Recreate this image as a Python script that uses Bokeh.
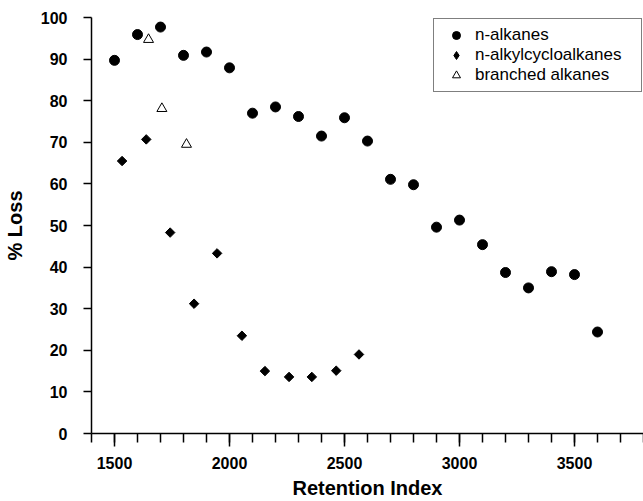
import math
from bokeh.plotting import figure
from bokeh.models import Range1d, FixedTicker, Legend, LegendItem
from bokeh.embed import file_html
from bokeh.resources import INLINE

# ---- data ----
n_alkanes_ri = [1500, 1600, 1700, 1800, 1900, 2000, 2100, 2200, 2300, 2400, 2500,
                2600, 2700, 2800, 2900, 3000, 3100, 3200, 3300, 3400, 3500, 3600]
n_alkanes_loss = [89.7, 95.9, 97.7, 90.9, 91.7, 87.9, 77.0, 78.5, 76.2, 71.5, 75.9,
                  70.3, 61.1, 59.8, 49.6, 51.3, 45.4, 38.7, 35.0, 38.9, 38.2, 24.4]

cyclo_ri = [1533, 1638, 1742, 1846, 1946, 2054, 2154, 2259, 2358, 2464, 2563]
cyclo_loss = [65.5, 70.7, 48.3, 31.2, 43.3, 23.5, 15.0, 13.6, 13.6, 15.1, 19.0]

branched_ri = [1648, 1706, 1813]
branched_loss = [94.7, 78.1, 69.5]

x_major_ticks = [1500, 2000, 2500, 3000, 3500]
x_minor_ticks = [1400, 1500, 1600, 1700, 1800, 1900, 2000, 2100, 2200, 2300, 2400, 2500,
                 2600, 2700, 2800, 2900, 3000, 3100, 3200, 3300, 3400, 3500, 3600, 3700, 3800]
y_ticks = [0, 10, 20, 30, 40, 50, 60, 70, 80, 90, 100]

series_labels = ["n-alkanes", "n-alkylcycloalkanes", "branched alkanes"]
x_title = "Retention Index"
y_title = "% Loss"

FONT = "Liberation Sans"

p = figure(width=643, height=501, output_backend="svg", toolbar_location=None,
           x_range=Range1d(1400, 3800), y_range=Range1d(0, 100),
           min_border_left=89, min_border_right=0, min_border_top=17,
           min_border_bottom=68)
p.outline_line_color = None
p.xgrid.visible = False
p.ygrid.visible = False
p.background_fill_color = "white"
p.border_fill_color = "white"

r1 = p.scatter(n_alkanes_ri, n_alkanes_loss, marker="circle", size=10,
               fill_color="black", line_color="black")
r2 = p.scatter(cyclo_ri, cyclo_loss, marker="square", angle=math.pi / 4, size=6.7,
               fill_color="black", line_color="black")
# legend-only twin of the cycloalkane series (diamond symbol in the key)
r2_key = p.scatter(cyclo_ri, cyclo_loss, marker="diamond", size=10,
                   fill_color="black", line_color="black", visible=False)
r3 = p.scatter(branched_ri, branched_loss, marker="triangle", size=10,
               fill_color="white", line_color="black", line_width=1)

# x axis
xa = p.xaxis[0]
xa.ticker = FixedTicker(ticks=x_major_ticks, minor_ticks=x_minor_ticks)
xa.axis_label = x_title
xa.axis_line_color = "black"
xa.axis_line_width = 1.5
xa.major_tick_line_color = "black"
xa.major_tick_line_width = 1.5
xa.minor_tick_line_color = "black"
xa.minor_tick_line_width = 1.5
xa.major_tick_out = 13
xa.major_tick_in = 0
xa.minor_tick_out = 9
xa.minor_tick_in = 0
xa.major_label_standoff = 10
xa.major_label_text_font = FONT
xa.major_label_text_font_style = "bold"
xa.major_label_text_font_size = "16px"
xa.major_label_text_color = "black"
xa.axis_label_standoff = 5
xa.axis_label_text_font = FONT
xa.axis_label_text_font_style = "bold"
xa.axis_label_text_font_size = "20px"
xa.axis_label_text_color = "black"

# y axis
ya = p.yaxis[0]
ya.ticker = FixedTicker(ticks=y_ticks)
ya.axis_label = y_title
ya.axis_line_color = "black"
ya.axis_line_width = 1.5
ya.major_tick_line_color = "black"
ya.major_tick_line_width = 1.5
ya.minor_tick_line_color = None
ya.major_tick_out = 8
ya.major_tick_in = 0
ya.major_label_standoff = 16
ya.major_label_text_font = FONT
ya.major_label_text_font_style = "bold"
ya.major_label_text_font_size = "16px"
ya.major_label_text_color = "black"
ya.axis_label_standoff = 12
ya.axis_label_text_font = FONT
ya.axis_label_text_font_style = "bold"
ya.axis_label_text_font_size = "20px"
ya.axis_label_text_color = "black"

legend = Legend(
    items=[LegendItem(label=series_labels[0], renderers=[r1]),
           LegendItem(label=series_labels[1], renderers=[r2_key]),
           LegendItem(label=series_labels[2], renderers=[r3])],
    location="top_right", margin=1, padding=6, spacing=0, click_policy="none",
    glyph_width=32, glyph_height=20, label_height=20, label_standoff=3,
    label_width=160, label_text_font=FONT, label_text_font_size="17px",
    label_text_color="black", border_line_color="black", border_line_width=1.5,
    background_fill_color="white", background_fill_alpha=1.0)
p.add_layout(legend)

open("out.html", "w").write(file_html(p, INLINE))
